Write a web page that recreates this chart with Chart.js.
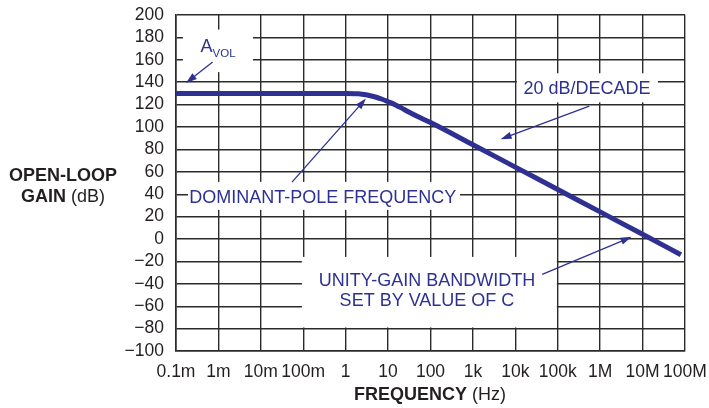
<!DOCTYPE html>
<html>
<head>
<meta charset="utf-8">
<script src="https://cdn.jsdelivr.net/npm/chart.js@4"></script>
<style>
  html, body { margin: 0; padding: 0; background: #fff; }
  #wrap { width: 709px; height: 408px; position: relative; }
</style>
</head>
<body>
<div id="wrap"><canvas id="gainChart"></canvas></div>
<script>
// Open-loop gain curve (frequency in Hz, gain in dB)
const freqs = [1e-4, 1e-3, 1e-2, 0.1, 1, 2, 3, 5, 7, 10, 15, 20, 30, 50, 100, 1e3, 1e4, 1e5, 1e6, 1e7, 8e7];
const gainDb = [130, 130, 130, 130, 130, 129.7, 128.8, 126.8, 125, 122.6, 119.7, 117.3, 113.6, 109.3, 104, 84.2, 64.2, 44.2, 24.2, 4.2, -14];

// Axis ticks
const xTickValues = [1e-4, 1e-3, 1e-2, 0.1, 1, 10, 100, 1e3, 1e4, 1e5, 1e6, 1e7, 1e8];
const xTickLabels = ['0.1m', '1m', '10m', '100m', '1', '10', '100', '1k', '10k', '100k', '1M', '10M', '100M'];
const yMin = -100;
const yMax = 200;
const yStep = 20;

const NAVY = '#2e3192';
const FONT = '"Liberation Sans", Arial, Helvetica, sans-serif';

// Annotations, placed in data units (frequency, dB)
const boxes = [
    { x0: 1.46e-4, x1: 6.5e-3, y0: 187, y1: 149 },   // A_VOL
    { x0: 1.09e4, x1: 2.3e7, y0: 148, y1: 122 },     // 20 dB/DECADE
    { x0: 1.92e-4, x1: 495, y0: 51, y1: 26 },        // DOMINANT-POLE
    { x0: 0.093, x1: 9.5e4, y0: -16, y1: -79 }       // UNITY-GAIN
];
const labels = [
    { text: '20 dB/DECADE', x: 4.9e5, y: 134.3 },
    { text: 'DOMINANT-POLE FREQUENCY', x: 0.29, y: 37 },
    { text: 'UNITY-GAIN BANDWIDTH', x: 82.6, y: -37.3 },
    { text: 'SET BY VALUE OF C', x: 82.6, y: -55.1 }
];
const arrows = [
    { from: [7.3e-4, 158], to: [1.72e-4, 139.3] },
    { from: [0.0543, 50.8], to: [3.01, 125.4] },
    { from: [5.53e5, 118.6], to: [4.5e3, 89.1] },
    { from: [4.3e4, -31.6], to: [5.5e6, 1.9] }
];

function drawArrow(ctx, x1, y1, x2, y2) {
    const ang = Math.atan2(y2 - y1, x2 - x1);
    const len = 11, half = 3.6;
    ctx.beginPath();
    ctx.moveTo(x1, y1);
    ctx.lineTo(x2 - Math.cos(ang) * len * 0.8, y2 - Math.sin(ang) * len * 0.8);
    ctx.stroke();
    ctx.beginPath();
    ctx.moveTo(x2, y2);
    ctx.lineTo(x2 - Math.cos(ang) * len - Math.sin(ang) * half, y2 - Math.sin(ang) * len + Math.cos(ang) * half);
    ctx.lineTo(x2 - Math.cos(ang) * len + Math.sin(ang) * half, y2 - Math.sin(ang) * len - Math.cos(ang) * half);
    ctx.closePath();
    ctx.fill();
}

const notesPlugin = {
    id: 'notes',
    // white boxes hide the grid behind the labels
    beforeDatasetsDraw(chart) {
        const { ctx, scales: { x, y } } = chart;
        ctx.save();
        ctx.fillStyle = '#fff';
        boxes.forEach(b => {
            const px0 = x.getPixelForValue(b.x0), px1 = x.getPixelForValue(b.x1);
            const py0 = y.getPixelForValue(b.y0), py1 = y.getPixelForValue(b.y1);
            ctx.fillRect(px0, py0, px1 - px0, py1 - py0);
        });
        ctx.restore();
    },
    afterDatasetsDraw(chart) {
        const { ctx, scales: { x, y } } = chart;
        ctx.save();
        ctx.fillStyle = NAVY;
        ctx.strokeStyle = NAVY;
        ctx.lineWidth = 1.3;
        ctx.font = '18px ' + FONT;
        ctx.textAlign = 'center';
        ctx.textBaseline = 'middle';
        labels.forEach(l => {
            ctx.fillText(l.text, x.getPixelForValue(l.x), y.getPixelForValue(l.y));
        });

        // A with VOL subscript
        const ax = x.getPixelForValue(3.8e-4), ay = y.getPixelForValue(167);
        ctx.textAlign = 'left';
        ctx.textBaseline = 'alphabetic';
        ctx.fillText('A', ax, ay);
        const aw = ctx.measureText('A').width;
        ctx.font = '11.5px ' + FONT;
        ctx.fillText('VOL', ax + aw, ay + 5);

        arrows.forEach(a => {
            drawArrow(ctx,
                x.getPixelForValue(a.from[0]), y.getPixelForValue(a.from[1]),
                x.getPixelForValue(a.to[0]), y.getPixelForValue(a.to[1]));
        });
        ctx.restore();
    },
    // axis titles mix bold and regular text, so draw them here
    afterDraw(chart) {
        const { ctx } = chart;
        ctx.save();
        ctx.fillStyle = '#231f20';
        ctx.textBaseline = 'middle';
        ctx.textAlign = 'left';

        function mixed(parts, cx, cy) {
            let total = 0;
            parts.forEach(p => { ctx.font = p[1] + ' 18px ' + FONT; total += ctx.measureText(p[0]).width; });
            let px = cx - total / 2;
            parts.forEach(p => {
                ctx.font = p[1] + ' 18px ' + FONT;
                ctx.fillText(p[0], px, cy);
                px += ctx.measureText(p[0]).width;
            });
        }
        mixed([['OPEN-LOOP', 'bold']], 63, 176.5);
        mixed([['GAIN ', 'bold'], ['(dB)', 'normal']], 63, 197);
        mixed([['FREQUENCY ', 'bold'], ['(Hz)', 'normal']], 430, 395);
        ctx.restore();
    }
};

const ctx = document.getElementById('gainChart').getContext('2d');
new Chart(ctx, {
    type: 'line',
    data: {
        datasets: [{
            data: freqs.map((f, i) => ({ x: f, y: gainDb[i] })),
            borderColor: NAVY,
            borderWidth: 5,
            pointRadius: 0,
            cubicInterpolationMode: 'monotone',
            fill: false
        }]
    },
    options: {
        responsive: true,
        maintainAspectRatio: false,
        animation: false,
        layout: { padding: { top: 15, right: 24, left: 0, bottom: 0 } },
        plugins: {
            legend: { display: false },
            tooltip: { enabled: false }
        },
        scales: {
            x: {
                type: 'logarithmic',
                min: 1e-4,
                max: 1e8,
                afterBuildTicks: scale => { scale.ticks = xTickValues.map(v => ({ value: v })); },
                afterFit: scale => {
                    scale.height = 57;
                    scale.paddingLeft = 0;
                    scale.paddingRight = 0;
                },
                ticks: {
                    autoSkip: false,
                    maxRotation: 0,
                    padding: 11,
                    color: '#231f20',
                    font: { family: FONT, size: 17.5 },
                    callback: (value, index) => xTickLabels[index]
                },
                grid: { color: '#2b2b2b', lineWidth: 1.4, drawTicks: false },
                border: { color: '#2b2b2b', width: 1.6 }
            },
            y: {
                min: yMin,
                max: yMax,
                afterFit: scale => {
                    scale.width = 176;
                    scale.paddingTop = 0;
                    scale.paddingBottom = 0;
                },
                ticks: {
                    stepSize: yStep,
                    autoSkip: false,
                    padding: 12,
                    color: '#231f20',
                    font: { family: FONT, size: 17.5 },
                    callback: value => String(value).replace('-', '\u2212')
                },
                grid: { color: '#2b2b2b', lineWidth: 1.4, drawTicks: false },
                border: { color: '#2b2b2b', width: 1.6 }
            }
        }
    },
    plugins: [notesPlugin]
});
</script>
</body>
</html>
